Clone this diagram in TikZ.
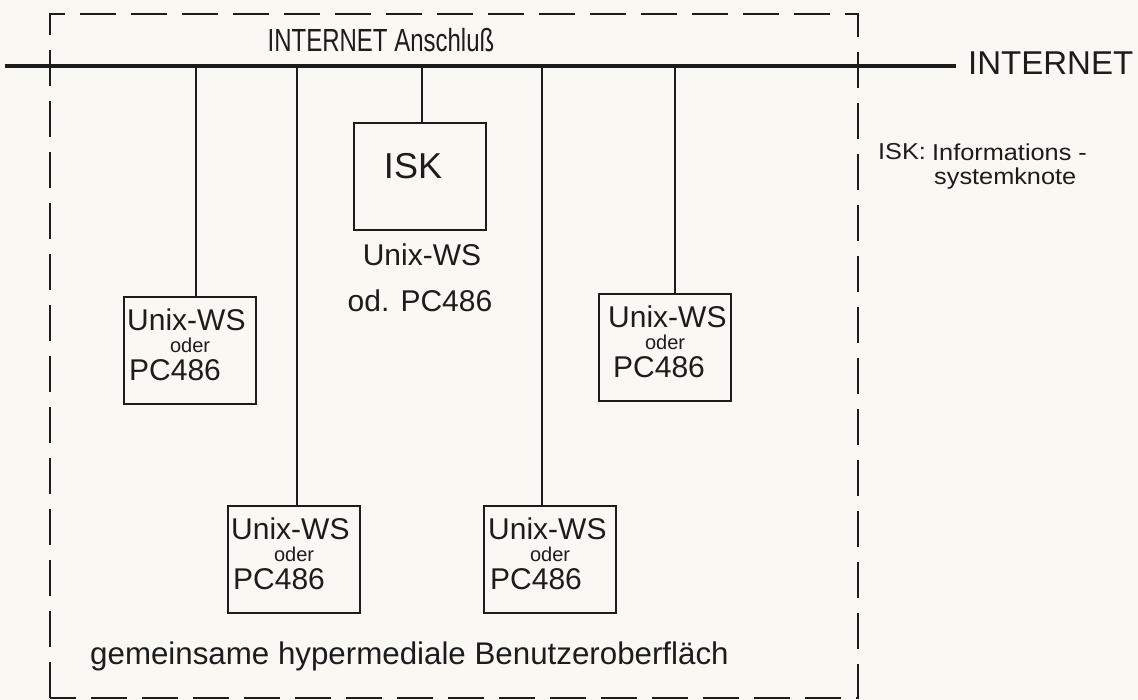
\documentclass[tikz,border=0pt]{standalone}
\usepackage{fontspec}
\setmainfont{Liberation Sans}
\newfontfamily\narrowfont[FakeStretch=0.75]{Liberation Sans}
\newfontfamily\widefont[FakeStretch=1.1]{Liberation Sans}
\usetikzlibrary{calc}
\definecolor{paper}{RGB}{250,248,243}
\definecolor{ink}{RGB}{28,28,28}
\tikzset{
  pcbox/.style={draw=ink, line width=2.2pt, minimum width=132pt, minimum height=107pt, inner sep=0pt, anchor=north west},
  bigtxt/.style={text=ink, inner sep=0pt, font=\fontsize{30}{34}\selectfont},
  smalltxt/.style={text=ink, inner sep=0pt, font=\fontsize{20}{22}\selectfont},
  legtxt/.style={text=ink, inner sep=0pt, anchor=west, font=\widefont\fontsize{23}{26}\selectfont},
  vline/.style={draw=ink, line width=1.8pt},
  busline/.style={draw=ink, line width=4.5pt},
  frame/.style={draw=ink, line width=2pt, dash pattern=on 36pt off 15pt}
}
\newcommand\pcnode[5]{%
  \node[pcbox] (#1) at (#2,#3) {};
  \node[bigtxt, anchor=west] (#1u) at ([xshift=#4pt, yshift=-24pt]#1.north west) {Unix-WS};
  \node[smalltxt] (#1o) at ([yshift=-49pt]#1.north) {oder};
  \node[bigtxt, anchor=west] (#1p) at ([xshift=#5pt, yshift=-74pt]#1.north west) {PC486};
}
\begin{document}
\begin{tikzpicture}[x=1pt,y=-1pt]
\fill[paper] (0,0) rectangle (1138,700);
\useasboundingbox (0,0) rectangle (1138,700);

% dashed frame
\draw[frame] (50,698) -- (50,14) -- (858,14) -- (858,698) -- cycle;

% title
\node[text=ink, inner sep=0pt, font=\narrowfont\fontsize{32}{36}\selectfont] (title) at (381,40) {INTERNET Anschluß};

% bus
\node[text=ink, inner sep=0pt, anchor=west, font=\fontsize{33}{36}\selectfont] (inet) at (968,63) {INTERNET};
\coordinate (busL) at (5,66);
\draw[busline] (busL) -- ([xshift=-12pt]inet.west |- busL);

% ISK
\node[pcbox] (isk) at (353,122) {};
\node[text=ink, inner sep=0pt, font=\fontsize{36}{40}\selectfont] (isklbl) at (413,166) {ISK};
\node[bigtxt] (iskws) at (422,255) {Unix-WS};
\node[bigtxt] (iskpc) at (420,301) {od. PC486};

% workstations
\pcnode{ul}{123}{296}{4}{6}
\pcnode{ur}{598}{293}{10}{15}
\pcnode{bl}{227}{505}{4}{6}
\pcnode{bm}{483}{505}{5}{7}

% drops
\coordinate (t1) at (196,66);
\coordinate (t2) at (297,66);
\coordinate (t3) at (422,66);
\coordinate (t4) at (542,66);
\coordinate (t5) at (675,66);
\draw[vline] (t1) -- (t1 |- ul.north);
\draw[vline] (t2) -- (t2 |- bl.north);
\draw[vline] (t3) -- (t3 |- isk.north);
\draw[vline] (t4) -- (t4 |- bm.north);
\draw[vline] (t5) -- (t5 |- ur.north);

% bottom label
\node[text=ink, inner sep=0pt, anchor=west, font=\fontsize{31.3}{35}\selectfont] (gui) at (90,656) {gemeinsame hypermediale Benutzeroberfläch};

% legend
\node[legtxt] (lg1) at (878,152) {ISK:};
\node[legtxt] (lg2) at (932,152) {Informations -};
\node[legtxt] (lg3) at (934,179) {systemknote};
\end{tikzpicture}
\end{document}
